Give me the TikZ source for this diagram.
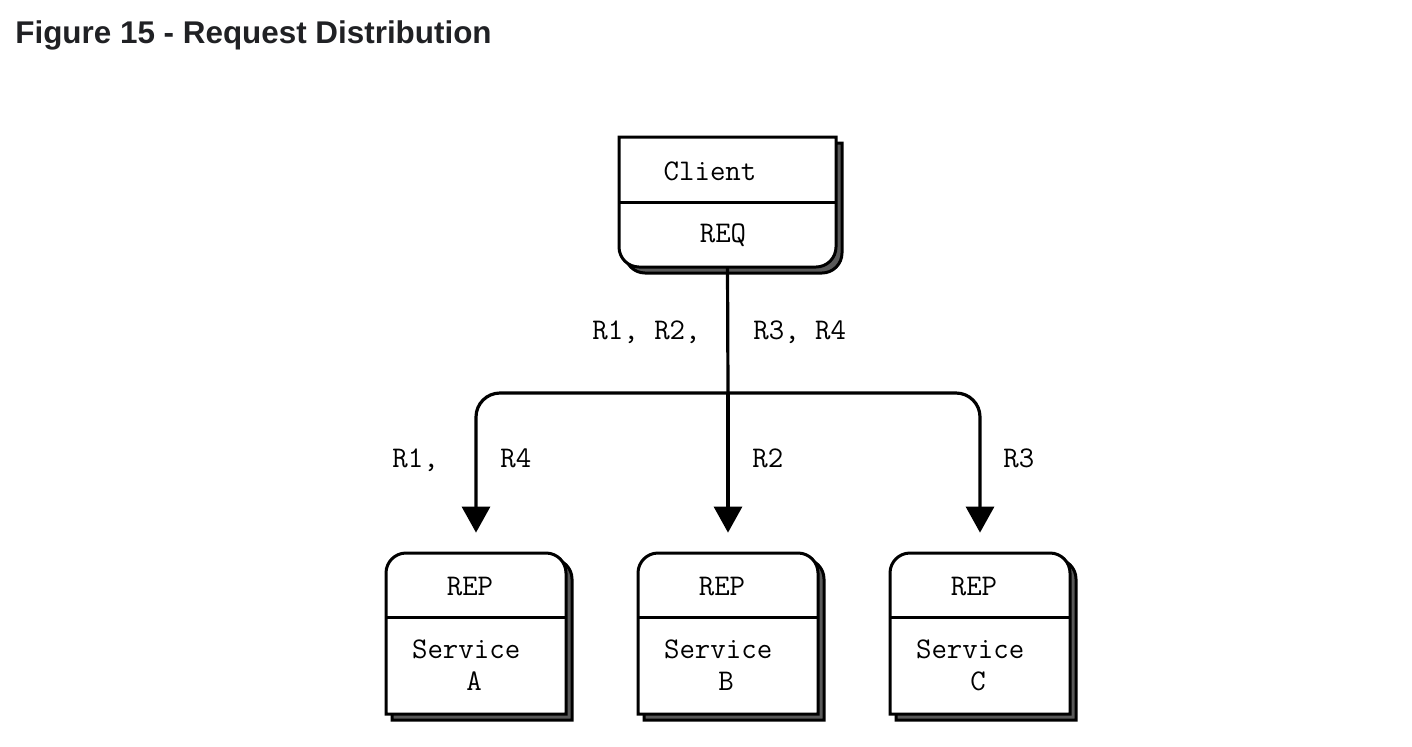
\documentclass[tikz,border=0pt]{standalone}
\usepackage{fontspec}
\usepackage{xcolor}
\usetikzlibrary{arrows.meta}
\newfontfamily\headfont{Liberation Sans}
\definecolor{titlegray}{HTML}{202124}
\tikzset{
	boxline/.style={line width=1.5pt, fill=white},
	shadowline/.style={line width=1.5pt, fill=black!65},
	conn/.style={line width=1.6pt, rounded corners=12pt},
	arr/.style={conn, -{Triangle[length=13pt,width=14pt]}, shorten >=10pt},
	lbl/.style={font=\fontsize{15}{16}\selectfont\ttfamily, inner sep=0pt},
	frame/.style={inner sep=0pt, minimum width=#1},
}

\begin{document}
\begin{tikzpicture}[x=0.5pt, y=-0.5pt]
						\useasboundingbox (0,0) rectangle (1412,746);
						\node[anchor=base west, inner sep=0pt, text=titlegray, font=\headfont\fontsize{15.7}{18}\selectfont\bfseries] (title) at (15,43) {Figure 15 - Request Distribution};
						% client box
						\foreach \d/\sty in {6/shadowline, 0/boxline}
							\draw[\sty, shift={(\d,\d)}] (619,137) -- (836,137) -- (836,247) .. controls (836,258) and (827,267) .. (816,267) -- (639,267) .. controls (628,267) and (619,258) .. (619,247) -- cycle;
						\draw[boxline] (619,202) -- (836,202);
						\node[frame=108.5pt, minimum height=65pt] (clientbox) at (727.5,202) {};
						\node[lbl, anchor=base] (client) at (710,180) {Client};
						\node[lbl, anchor=base] (req) at (723,242) {REQ};
						% service boxes
						\foreach \x/\s in {476/A, 728/B, 980/C} {
							\foreach \d/\sty in {6/shadowline, 0/boxline}
								\draw[\sty, shift={(\d,\d)}] (\x-90,714) -- (\x-90,573) .. controls (\x-90,562) and (\x-81,553) .. (\x-70,553) -- (\x+70,553) .. controls (\x+81,553) and (\x+90,562) .. (\x+90,573) -- (\x+90,714) -- cycle;
							\draw[boxline] (\x-90,617) -- (\x+90,617);
							\node[frame=90pt, minimum height=80.5pt] (svc\s) at (\x,633.5) {};
							\node[lbl, anchor=base] (rep\s) at (\x-6,595) {REP};
							\node[lbl, align=center] (name\s) at (\x-2,665) {Service\hspace*{0.525em}\\\s};
						}
						% connectors
						\coordinate (fork) at (728,393);
						\draw[conn] (clientbox.south) -- (fork);
						\draw[arr] (fork) -| (svcA.north);
						\draw[arr] (fork) -- (svcB.north);
						\draw[arr] (fork) -| (svcC.north);
						\node[lbl, anchor=base east] (splitL) at (701,339) {R1, R2,};
						\node[lbl, anchor=base west] (splitR) at (753,339) {R3, R4};
						\node[lbl, anchor=base west] (toA1) at (392,467) {R1,};
						\node[lbl, anchor=base west] (toA2) at (500,467) {R4};
						\node[lbl, anchor=base west] (toB) at (752,467) {R2};
						\node[lbl, anchor=base west] (toC) at (1003,467) {R3};
					\end{tikzpicture}
\end{document}
